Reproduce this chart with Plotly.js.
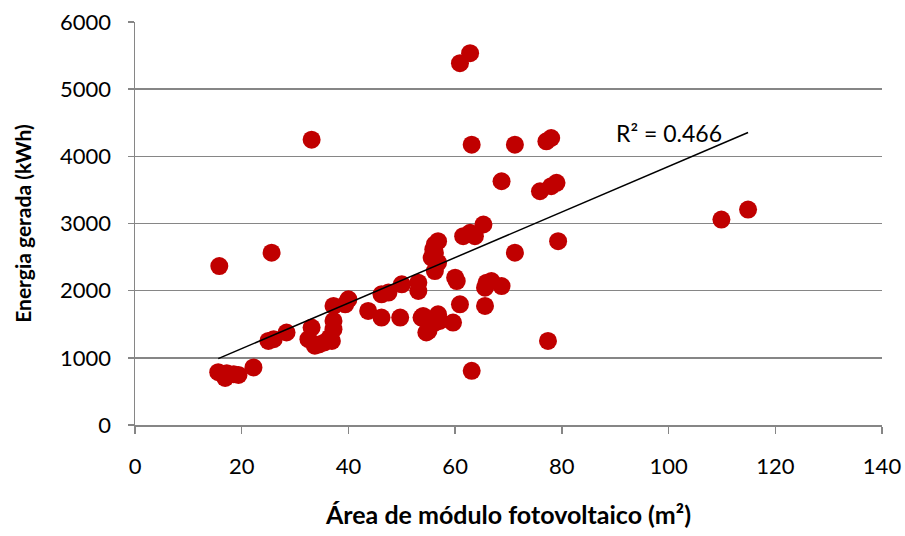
<!DOCTYPE html>
<html><head><meta charset="utf-8">
<script src="https://cdn.plot.ly/plotly-3.0.1.min.js"></script>
<style>html,body{margin:0;padding:0;background:#fff}#chart{width:905px;height:536px}</style>
</head><body><div id="chart"></div>
<script>
const areaM2 = [15.8,25.6,33.1,15.6,16.9,17.2,18.5,19.4,22.2,25.0,26.0,28.4,33.1,32.5,33.7,36.9,37.2,37.2,37.2,40.0,39.4,43.7,46.2,46.2,47.5,50.0,49.7,53.1,53.1,53.7,55.0,56.8,56.2,56.2,56.2,56.2,56.8,55.9,55.6,60.0,60.3,65.3,62.8,61.5,79.3,71.2,66.8,68.7,65.6,65.6,60.9,54.0,57.1,59.6,77.4,63.1,60.9,62.8,63.1,71.2,78.0,77.1,68.7,75.9,79.0,78.0,109.9,114.9,36.5,34.5,35.5,56.8,63.7,65.9,54.6];
const energiaKWh = [2366,2565,4248,787,700,772,757,745,857,1252,1277,1377,1451,1277,1180,1252,1426,1549,1772,1871,1797,1698,1600,1946,1971,2094,1600,1995,2119,1600,1401,1649,1525,2292,2565,2688,2737,2614,2491,2193,2143,2985,2862,2812,2737,2565,2143,2069,2045,1772,1797,1624,1549,1525,1252,806,5387,5535,4173,4173,4273,4223,3629,3480,3605,3555,3059,3208,1300,1200,1230,2416,2812,2119,1377];
const xTicks = [0,20,40,60,80,100,120,140];
const yTicks = [0,1000,2000,3000,4000,5000,6000];
// trendline coefficients
const trendSlope = [33.9];
const trendIntercept = [459];
const r2Label = "R² = 0.466";

const xmin = Math.min(...areaM2), xmax = Math.max(...areaM2);
const trendX = [xmin, xmax];
const trendY = trendX.map(v => trendIntercept[0] + trendSlope[0]*v);

const font = "Lato, 'Open Sans', sans-serif";
const data = [
 {x: areaM2, y: energiaKWh, type:'scatter', mode:'markers',
  marker:{color:'#C00000', size:18}, hoverinfo:'x+y'},
 {x: trendX, y: trendY, type:'scatter', mode:'lines',
  line:{color:'#000', width:1.5}, hoverinfo:'skip'}
];
const layout = {
 width:905, height:536, showlegend:false,
 paper_bgcolor:'#fff', plot_bgcolor:'#fff',
 margin:{l:135, r:23, t:22, b:111},
 font:{family:font, size:22, color:'#000'},
 xaxis:{range:[0,140], tickvals:xTicks, ticks:'outside', ticklen:7, tickcolor:'#868686', tickwidth:1.5,
   ticklabelstandoff:14,
   showgrid:false, zeroline:false, showline:true, linecolor:'#868686', linewidth:1.5,
   tickfont:{size:22}, title:{text:'<b>Área de módulo fotovoltaico (m²)</b>', font:{size:25}, standoff:28}},
 yaxis:{range:[0,6000], tickvals:yTicks, ticks:'outside', ticklen:6, tickcolor:'#868686', tickwidth:1.5,
   ticklabelstandoff:12,
   showgrid:true, gridcolor:'#868686', gridwidth:1.5, zeroline:false, showline:true, linecolor:'#868686', linewidth:1.5,
   tickfont:{size:22}, title:{text:'<b>Energia gerada (kWh)</b>', font:{size:21}, standoff:22}},
 annotations:[{x:100, y:4350, text:r2Label, showarrow:false, font:{size:23}, xanchor:'center'}]
};
Plotly.newPlot('chart', data, layout, {displayModeBar:false, staticPlot:true});
</script></body></html>
